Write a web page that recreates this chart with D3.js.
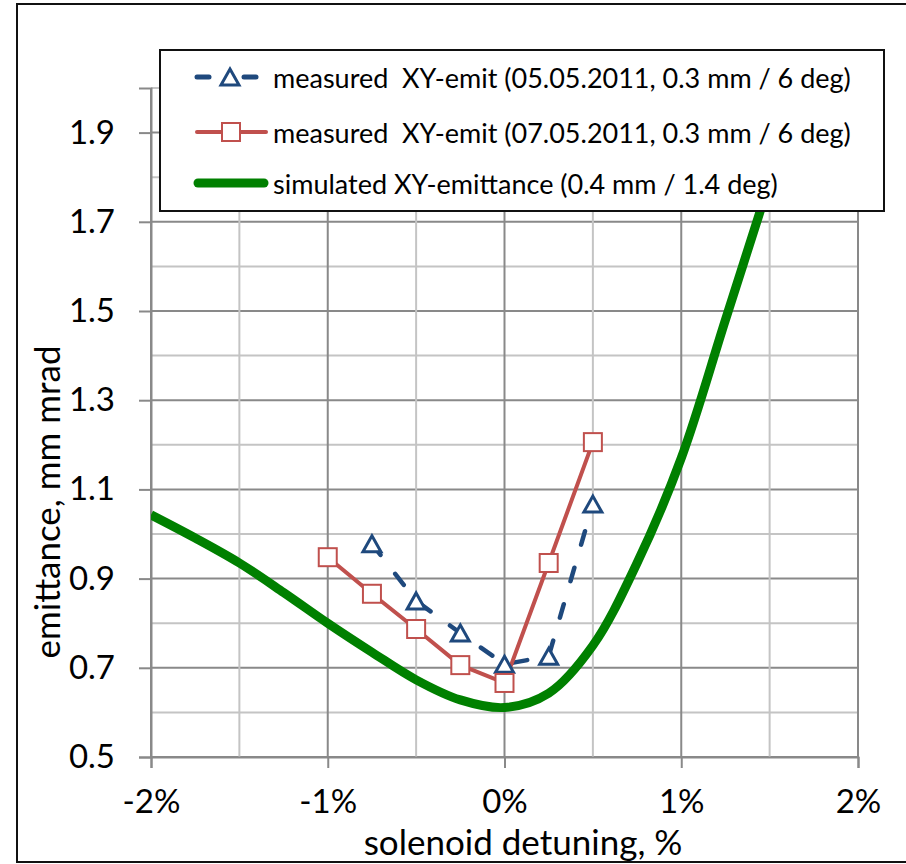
<!DOCTYPE html>
<html>
<head>
<meta charset="utf-8">
<script src="https://cdn.jsdelivr.net/npm/d3@7"></script>
<style>
  body { margin: 0; background: #fff; }
  text { font-family: Lato, "Open Sans", sans-serif; fill: #000; white-space: pre; }
</style>
</head>
<body>
<svg id="chart"></svg>
<script>
// measured 05.05.2011 (triangles)
var blueX = [-0.75, -0.5, -0.25, 0, 0.25, 0.5];
var blueY = [0.978, 0.850, 0.778, 0.708, 0.726, 1.067];

// measured 07.05.2011 (squares)
var redX = [-1, -0.75, -0.5, -0.25, 0, 0.25, 0.5];
var redY = [0.948, 0.866, 0.787, 0.706, 0.666, 0.935, 1.206];

// simulated curve
var simX = [-2, -1.75, -1.5, -1.25, -1, -0.75, -0.5, -0.25, 0, 0.25, 0.5, 0.75, 1, 1.25, 1.5];
var simY = [1.043, 0.991, 0.935, 0.869, 0.800, 0.735, 0.673, 0.628, 0.611, 0.643, 0.750, 0.935, 1.170, 1.480, 1.790];

var yTicks = [0.5, 0.7, 0.9, 1.1, 1.3, 1.5, 1.7, 1.9];
var xTicks = [-2, -1, 0, 1, 2];

var legendLabels = [
  "measured  XY-emit (05.05.2011, 0.3 mm / 6 deg)",
  "measured  XY-emit (07.05.2011, 0.3 mm / 6 deg)",
  "simulated XY-emittance (0.4 mm / 1.4 deg)"
];

var width = 906, height = 864;
var blue = "#1F497D", red = "#C0504D", green = "#008000";
var majorGrid = "#898989", minorGrid = "#c4c4c4";

var svg = d3.select("#chart")
    .attr("width", width)
    .attr("height", height);

svg.append("rect").attr("width", width).attr("height", height).attr("fill", "#fff");

// outer chart frame
svg.append("rect")
    .attr("x", 17).attr("y", 4)
    .attr("width", 905).attr("height", 858)
    .attr("fill", "none").attr("stroke", "#111").attr("stroke-width", 2);

var xScale = d3.scaleLinear().domain([-2, 2]).range([151, 858]);
var yScale = d3.scaleLinear().domain([0.5, 2.0]).range([757, 88]);

// gridlines
var hLines = d3.range(5, 21).map(d => d / 10);
svg.append("g").selectAll("line")
    .data(hLines)
    .join("line")
    .attr("x1", xScale(-2)).attr("x2", xScale(2))
    .attr("y1", d => yScale(d)).attr("y2", d => yScale(d))
    .attr("stroke", (d, i) => i % 2 === 0 ? majorGrid : minorGrid)
    .attr("stroke-width", 2);

var vLines = d3.range(-4, 5).map(d => d / 2);
svg.append("g").selectAll("line")
    .data(vLines)
    .join("line")
    .attr("x1", d => xScale(d)).attr("x2", d => xScale(d))
    .attr("y1", yScale(2.0)).attr("y2", yScale(0.5))
    .attr("stroke", (d, i) => i % 2 === 0 ? majorGrid : minorGrid)
    .attr("stroke-width", 2);

// axes
var yAxis = d3.axisLeft(yScale).tickValues(yTicks).tickSize(12).tickPadding(24)
    .tickFormat(d3.format(".1f"));
var gy = svg.append("g").attr("transform", `translate(${xScale(-2)},0)`).call(yAxis);
gy.select(".domain").attr("stroke", majorGrid).attr("stroke-width", 2);
gy.selectAll(".tick line").attr("stroke", majorGrid).attr("stroke-width", 2);
gy.selectAll(".tick text").attr("font-size", 33).attr("font-family", "Lato, sans-serif").attr("fill", "#000");

var xAxis = d3.axisBottom(xScale).tickValues(xTicks).tickSize(11).tickPadding(22)
    .tickFormat(d => d + "%");
var gx = svg.append("g").attr("transform", `translate(0,${yScale(0.5)})`).call(xAxis);
gx.select(".domain").attr("stroke", majorGrid).attr("stroke-width", 2);
gx.selectAll(".tick line").attr("stroke", majorGrid).attr("stroke-width", 2);
gx.selectAll(".tick text").attr("font-size", 33).attr("font-family", "Lato, sans-serif").attr("fill", "#000");

// axis titles
svg.append("text")
    .attr("x", 523).attr("y", 841)
    .attr("text-anchor", "middle").attr("dominant-baseline", "central")
    .attr("font-size", 35)
    .text("solenoid detuning, %");

svg.append("text")
    .attr("transform", "translate(46,502) rotate(-90)")
    .attr("text-anchor", "middle").attr("dominant-baseline", "central")
    .attr("font-size", 35)
    .text("emittance, mm mrad");

// clip to plot area
svg.append("defs").append("clipPath").attr("id", "plotClip")
    .append("rect")
    .attr("x", xScale(-2)).attr("y", yScale(2.0))
    .attr("width", xScale(2) - xScale(-2)).attr("height", yScale(0.5) - yScale(2.0));

var plot = svg.append("g").attr("clip-path", "url(#plotClip)");

var simData = simX.map((x, i) => ({x: x, y: simY[i]}));
var redData = redX.map((x, i) => ({x: x, y: redY[i]}));
var blueData = blueX.map((x, i) => ({x: x, y: blueY[i]}));

var smooth = d3.line().x(d => xScale(d.x)).y(d => yScale(d.y)).curve(d3.curveCatmullRom.alpha(0.5));
var straight = d3.line().x(d => xScale(d.x)).y(d => yScale(d.y));

plot.append("path")
    .attr("d", smooth(simData))
    .attr("fill", "none").attr("stroke", green)
    .attr("stroke-width", 9).attr("stroke-linejoin", "round");

plot.append("path")
    .attr("d", straight(blueData))
    .attr("fill", "none").attr("stroke", blue)
    .attr("stroke-width", 4.5).attr("stroke-linecap", "round")
    .attr("stroke-dasharray", "14,24");

plot.append("path")
    .attr("d", straight(redData))
    .attr("fill", "none").attr("stroke", red)
    .attr("stroke-width", 4).attr("stroke-linejoin", "round");

function triangle(cx, cy) {
  return `M${cx},${cy - 8} L${cx + 9},${cy + 8} L${cx - 9},${cy + 8} Z`;
}

svg.append("g").selectAll("path")
    .data(blueData)
    .join("path")
    .attr("d", d => triangle(xScale(d.x), yScale(d.y)))
    .attr("fill", "#fff").attr("stroke", blue).attr("stroke-width", 3)
    .attr("stroke-linejoin", "miter");

svg.append("g").selectAll("rect")
    .data(redData)
    .join("rect")
    .attr("x", d => xScale(d.x) - 9).attr("y", d => yScale(d.y) - 9)
    .attr("width", 18).attr("height", 18)
    .attr("fill", "#fff").attr("stroke", red).attr("stroke-width", 2);

// legend
var legend = svg.append("g");
legend.append("rect")
    .attr("x", 160).attr("y", 50).attr("width", 724).attr("height", 161)
    .attr("fill", "#fff").attr("stroke", "#111").attr("stroke-width", 2);

var rowY = [77, 132, 183];

legend.append("line").attr("x1", 197).attr("x2", 209).attr("y1", rowY[0]).attr("y2", rowY[0])
    .attr("stroke", blue).attr("stroke-width", 5).attr("stroke-linecap", "round");
legend.append("line").attr("x1", 244).attr("x2", 256).attr("y1", rowY[0]).attr("y2", rowY[0])
    .attr("stroke", blue).attr("stroke-width", 5).attr("stroke-linecap", "round");
legend.append("path").attr("d", triangle(230, rowY[0]))
    .attr("fill", "#fff").attr("stroke", blue).attr("stroke-width", 3);

legend.append("line").attr("x1", 197).attr("x2", 266).attr("y1", rowY[1]).attr("y2", rowY[1])
    .attr("stroke", red).attr("stroke-width", 4).attr("stroke-linecap", "round");
legend.append("rect").attr("x", 222).attr("y", rowY[1] - 9).attr("width", 18).attr("height", 18)
    .attr("fill", "#fff").attr("stroke", red).attr("stroke-width", 2);

legend.append("line").attr("x1", 198).attr("x2", 264).attr("y1", rowY[2]).attr("y2", rowY[2])
    .attr("stroke", green).attr("stroke-width", 9).attr("stroke-linecap", "round");

legend.selectAll("text.lbl")
    .data(legendLabels)
    .join("text")
    .attr("class", "lbl")
    .attr("x", 273).attr("y", (d, i) => rowY[i])
    .attr("dominant-baseline", "central")
    .attr("font-size", 27)
    .text(d => d);
</script>
</body>
</html>
